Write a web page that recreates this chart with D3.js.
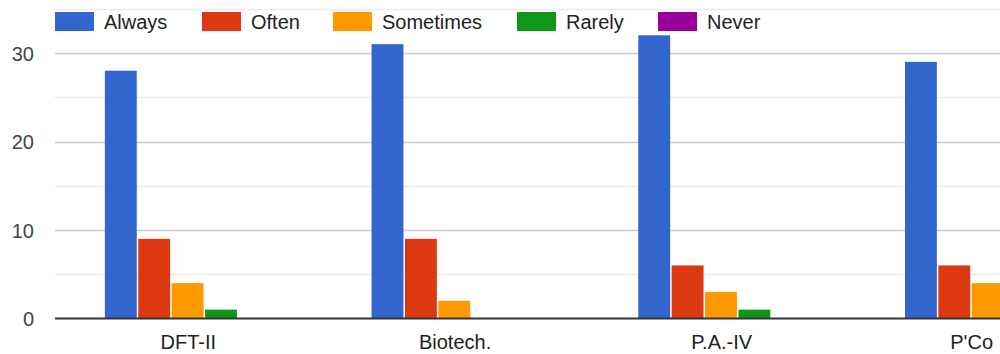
<!DOCTYPE html>
<html><head><meta charset="utf-8">
<script src="https://cdn.jsdelivr.net/npm/d3@7"></script>
<style>body{margin:0;background:#fff;overflow:hidden}text{font-family:Arial,"Liberation Sans",sans-serif}</style>
</head><body><svg id="c" width="1000" height="354"></svg>
<script>
const categories = ["DFT-II", "Biotech.", "P.A.-IV", "P'Co"];
const seriesNames = ["Always", "Often", "Sometimes", "Rarely", "Never"];
const always    = [28, 31, 32, 29];
const often     = [9, 9, 6, 6];
const sometimes = [4, 2, 3, 4];
const rarely    = [1, 0, 1, 0];
const never     = [0, 0, 0, 0];
const colors = ["#3366cc", "#dc3912", "#ff9900", "#109618", "#990099"];
const majorTicks = [0, 10, 20, 30];
const minorTicks = [5, 15, 25, 35];

const seriesValues = [always, often, sometimes, rarely, never];
const svg = d3.select("#c");
const W = 1000;
const left = 55, baseY = 318.5, topY = 53;
const y = d3.scaleLinear().domain([0, 30]).range([baseY, topY]);
const step = 266.7;
const x = d3.scaleBand().domain(categories).range([left, left + step * categories.length])
  .paddingInner(0.374).paddingOuter(0.187);
const xs = d3.scaleBand().domain(seriesNames).range([0, x.bandwidth()]);

// gridlines
svg.append("g").selectAll("line").data(minorTicks).join("line")
  .attr("x1", left).attr("x2", W).attr("y1", d => Math.round(y(d)) + 0.5).attr("y2", d => Math.round(y(d)) + 0.5)
  .attr("stroke", "#ebebeb").attr("stroke-width", 1.5);
svg.append("g").selectAll("line").data(majorTicks.filter(d => d > 0)).join("line")
  .attr("x1", left).attr("x2", W).attr("y1", d => Math.round(y(d)) + 0.5).attr("y2", d => Math.round(y(d)) + 0.5)
  .attr("stroke", "#cccccc").attr("stroke-width", 1.5);

// y axis labels
const yAxis = d3.axisLeft(y).tickValues(majorTicks).tickSize(0).tickPadding(0);
const yg = svg.append("g").attr("transform", "translate(34,0)").call(yAxis);
yg.select(".domain").remove();
yg.selectAll("text").attr("font-size", 20).attr("fill", "#444").attr("dy", "0.35em")
  .style("font-family", "Arial, 'Liberation Sans', sans-serif");

// bars
categories.forEach((c, ci) => {
  const g = svg.append("g").attr("transform", `translate(${x(c)},0)`);
  seriesNames.forEach((s, si) => {
    const v = seriesValues[si][ci];
    if (v <= 0) return;
    g.append("rect")
      .attr("x", xs(s)).attr("width", xs.bandwidth() - 1.5)
      .attr("y", y(v)).attr("height", baseY - y(v))
      .attr("fill", colors[si]);
  });
});

// baseline
svg.append("line").attr("x1", left).attr("x2", W).attr("y1", baseY).attr("y2", baseY)
  .attr("stroke", "#333").attr("stroke-width", 2);

// x axis labels
const xAxis = d3.axisBottom(x).tickSize(0).tickPadding(0);
const xg = svg.append("g").attr("transform", `translate(0,${baseY})`).call(xAxis);
xg.select(".domain").remove();
xg.selectAll("text").attr("font-size", 20).attr("fill", "#222").attr("y", 30).attr("dy", 0)
  .style("font-family", "Arial, 'Liberation Sans', sans-serif");
// keep labels inside the visible area (like the original's edge-fitting)
xg.selectAll(".tick").each(function(d) {
  const t = d3.select(this).select("text");
  const len = t.node().getComputedTextLength();
  const cx = x(d) + x.bandwidth() / 2;
  const maxRight = W - 7;
  if (cx + len / 2 > maxRight) t.attr("x", maxRight - len / 2 - cx);
});

// legend
const legendX = [55, 202, 333, 517, 658];
const lg = svg.append("g");
seriesNames.forEach((s, i) => {
  lg.append("rect").attr("x", legendX[i]).attr("y", 12).attr("width", 39).attr("height", 19).attr("fill", colors[i]);
  lg.append("text").attr("x", legendX[i] + 49).attr("y", 28.5).attr("font-size", 20).attr("fill", "#222").text(s);
});
</script></body></html>
